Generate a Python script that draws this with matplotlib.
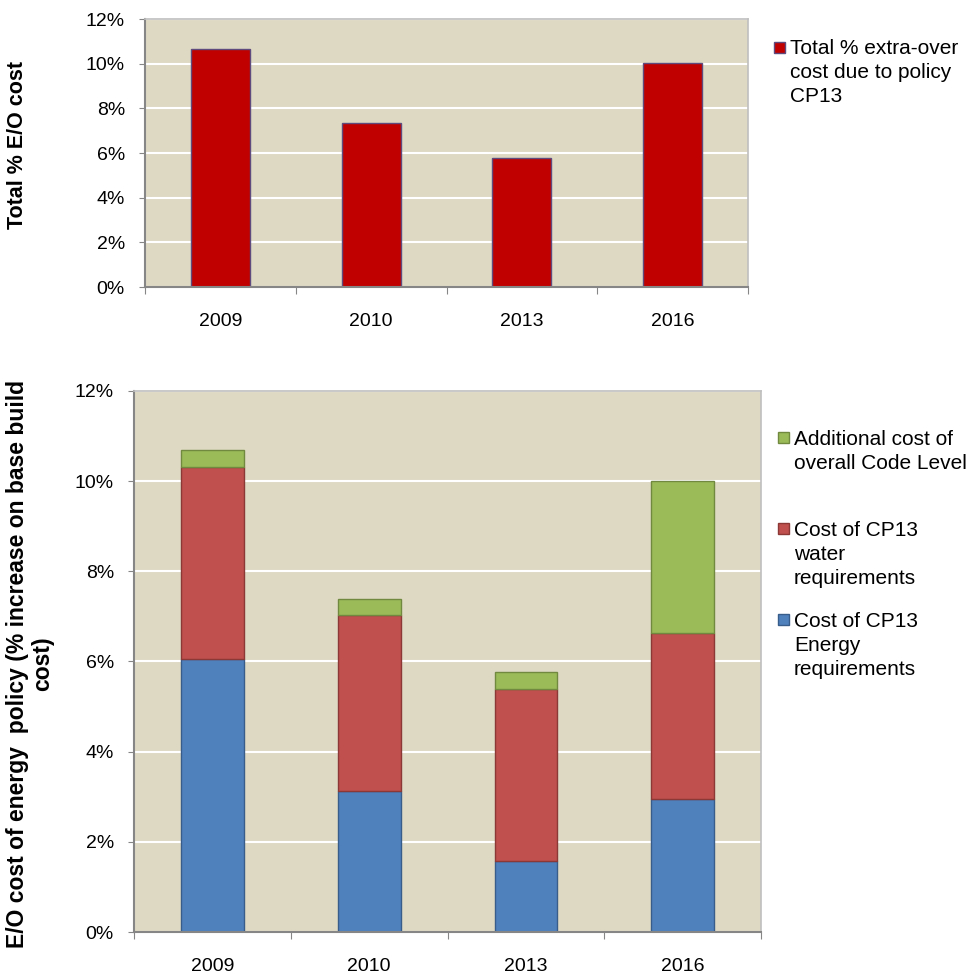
import numpy as np
import matplotlib
matplotlib.use('Agg')
import matplotlib.pyplot as plt
from matplotlib.patches import Rectangle
from matplotlib.ticker import FuncFormatter, FixedLocator

years = ['2009', '2010', '2013', '2016']
total_eo = [10.66, 7.34, 5.78, 10.03]
energy = [6.06, 3.13, 1.57, 2.95]
water = [4.25, 3.90, 3.82, 3.68]
code_level = [0.38, 0.36, 0.38, 3.37]

total_label = 'Total % extra-over\ncost due to policy\nCP13'
energy_label = 'Cost of CP13\nEnergy\nrequirements'
water_label = 'Cost of CP13\nwater\nrequirements'
code_label = 'Additional cost of\noverall Code Level'

plt.rcParams['font.family'] = ['Liberation Sans', 'DejaVu Sans']

W, H = 967, 975
BG = '#DDD9C3'
FS = 14
LFS = 15


def style_axes(ax, xpad):
    ax.set_facecolor(BG)
    ax.set_ylim(0, 12)
    ax.set_xlim(-0.5, len(years) - 0.5)
    ax.yaxis.set_major_locator(FixedLocator(np.arange(0, 13, 2)))
    ax.yaxis.set_major_formatter(FuncFormatter(lambda v, p: '%d%%' % v))
    ax.grid(axis='y', color='white', linewidth=1.5)
    ax.set_axisbelow(True)
    ax.set_xticks(np.arange(-0.5, len(years), 1.0))
    ax.set_xticklabels([])
    ax.set_xticks(np.arange(len(years)), minor=True)
    ax.set_xticklabels(years, minor=True)
    ax.tick_params(axis='x', which='major', length=5, color='#868686', direction='out')
    ax.tick_params(axis='x', which='minor', length=0, pad=xpad, labelsize=FS)
    ax.tick_params(axis='y', length=4, color='#868686', labelsize=FS, pad=10.5)
    for s in ['left', 'bottom']:
        ax.spines[s].set_color('#868686')
        ax.spines[s].set_linewidth(1.5)
    for s in ['top', 'right']:
        ax.spines[s].set_color('#BFBFBF')
        ax.spines[s].set_linewidth(1.2)


def legend_entry(fig, text, face, edge, mx, my, msize, tx, ty):
    # pixel positions from the top-left corner -> figure fraction
    fig.patches.append(Rectangle((mx / W, 1 - (my + msize) / H), msize / W, msize / H,
                                 transform=fig.transFigure, facecolor=face,
                                 edgecolor=edge, linewidth=1))
    fig.text(tx / W, 1 - ty / H, text, fontsize=LFS, va='top', ha='left',
             linespacing=1.34)


fig = plt.figure(figsize=(W / 100, H / 100), dpi=100)

# top chart
ax1 = fig.add_axes([0.150, 0.7056, 0.6235, 0.2749])
x = np.arange(len(years))
ax1.bar(x, total_eo, width=0.39, color='#C00000', edgecolor='#5F4B7D', linewidth=1)
style_axes(ax1, 18.5)
fig.text(18 / W, 1 - 145 / H, 'Total % E/O cost', rotation=90, ha='center', va='center',
         fontsize=15.5, fontweight='bold')
legend_entry(fig, total_label, '#C00000', '#5F4B7D', 774, 42, 11, 790, 39)

# bottom chart
ax2 = fig.add_axes([0.1386, 0.0441, 0.6484, 0.5549])
ax2.bar(x, energy, width=0.40, color='#4F81BD', edgecolor='#385D8A', linewidth=1)
bottom2 = np.array(energy)
ax2.bar(x, water, width=0.40, bottom=bottom2, color='#C0504D', edgecolor='#8C3836',
        linewidth=1)
bottom3 = bottom2 + np.array(water)
ax2.bar(x, code_level, width=0.40, bottom=bottom3, color='#9BBB59', edgecolor='#71893F',
        linewidth=1)
style_axes(ax2, 18.5)
fig.text(30 / W, 1 - 664 / H,
         'E/O cost of energy  policy (% increase on base build\ncost)',
         rotation=90, ha='center', va='center', multialignment='center',
         fontsize=16.5, fontweight='bold', linespacing=1.08)
legend_entry(fig, code_label, '#9BBB59', '#71893F', 778, 432, 11, 794, 430)
legend_entry(fig, water_label, '#C0504D', '#8C3836', 778, 523, 11, 794, 521)
legend_entry(fig, energy_label, '#4F81BD', '#385D8A', 778, 614, 11, 794, 612)

fig.savefig('out.png', dpi=100)
